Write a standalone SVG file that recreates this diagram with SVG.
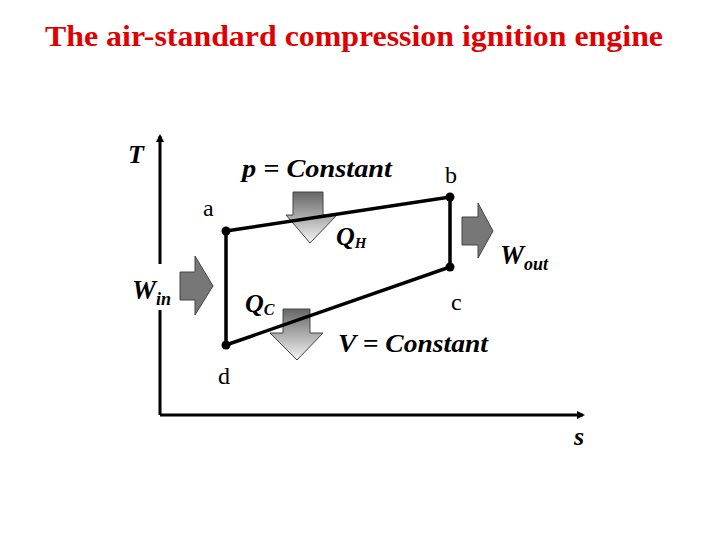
<svg xmlns="http://www.w3.org/2000/svg" width="720" height="540" viewBox="0 0 720 540">
<style>
.t{font-family:"Liberation Serif",serif;font-style:italic;font-weight:bold;fill:#000}
.r{font-family:"Liberation Serif",serif;fill:#000;font-size:24px}
.ax{stroke:#000;stroke-width:3;fill:none}
.cy{stroke:#000;stroke-width:3.5;fill:none}
.va{fill:url(#g);stroke:#444;stroke-width:1}
.ha{fill:#777;stroke:#444;stroke-width:1}
</style>
<defs>
<linearGradient id="g" x1="0" y1="0" x2="0" y2="1"><stop offset="0" stop-color="#666"/><stop offset="1" stop-color="#f4f4f4"/></linearGradient>
<marker id="m" markerWidth="8" markerHeight="8" refX="6" refY="4" orient="auto" markerUnits="userSpaceOnUse"><path d="M0,0L8,4L0,8z" fill="#000"/></marker>
</defs>
<rect width="720" height="540" fill="#fff"/>
<text x="45" y="46" textLength="618" lengthAdjust="spacingAndGlyphs" font-family="Liberation Serif,serif" font-weight="bold" font-size="29" fill="#e00000">The air-standard compression ignition engine</text>
<g id="axes">
<line class="ax" x1="160" y1="415" x2="160" y2="136" marker-end="url(#m)"/>
<line class="ax" x1="160" y1="415" x2="583" y2="415" marker-end="url(#m)"/>
<rect x="150" y="264" width="20" height="46" fill="#fff"/>
<text class="t" x="128" y="163" font-size="26">T</text>
<text class="t" x="574" y="445" font-size="26">s</text>
</g>
<g id="arrows">
<path id="QHarrow" class="va" d="M293,192H323V215H337L310,243L286,215H293Z"/>
<path id="QCarrow" class="va" d="M283,309H310V333H323L297,360L270,333H283Z"/>
<path id="Wout" class="ha" d="M462,217H478V203L493,231L478,258V245H462Z"/>
<path id="Win" class="ha" d="M180,272H195V256L213,286L195,315V300H180Z"/>
</g>
<g id="connectors">
<path class="cy" d="M226,231L450,197L450,267L226,345Z"/>
</g>
<g id="a"><circle cx="226" cy="231" r="4.5"/><text class="r" x="203" y="216">a</text></g>
<g id="b"><circle cx="450" cy="197" r="4.5"/><text class="r" x="445" y="183">b</text></g>
<g id="c"><circle cx="450" cy="267" r="4.5"/><text class="r" x="451" y="310">c</text></g>
<g id="d"><circle cx="226" cy="345" r="4.5"/><text class="r" x="218" y="384">d</text></g>
<g id="labels">
<text class="t" x="242" y="177" font-size="26" textLength="150" lengthAdjust="spacingAndGlyphs">p = Constant</text>
<text class="t" x="336" y="245" font-size="26">Q<tspan font-size="15" dy="3">H</tspan></text>
<text class="t" x="245" y="312" font-size="26">Q<tspan font-size="16" dy="3">C</tspan></text>
<text class="t" x="500" y="264" font-size="27">W<tspan font-size="18" dy="6">out</tspan></text>
<text class="t" x="132" y="299" font-size="27">W<tspan font-size="18" dy="6">in</tspan></text>
<text class="t" x="338" y="352" font-size="26" textLength="150" lengthAdjust="spacingAndGlyphs">V = Constant</text>
</g>
</svg>
